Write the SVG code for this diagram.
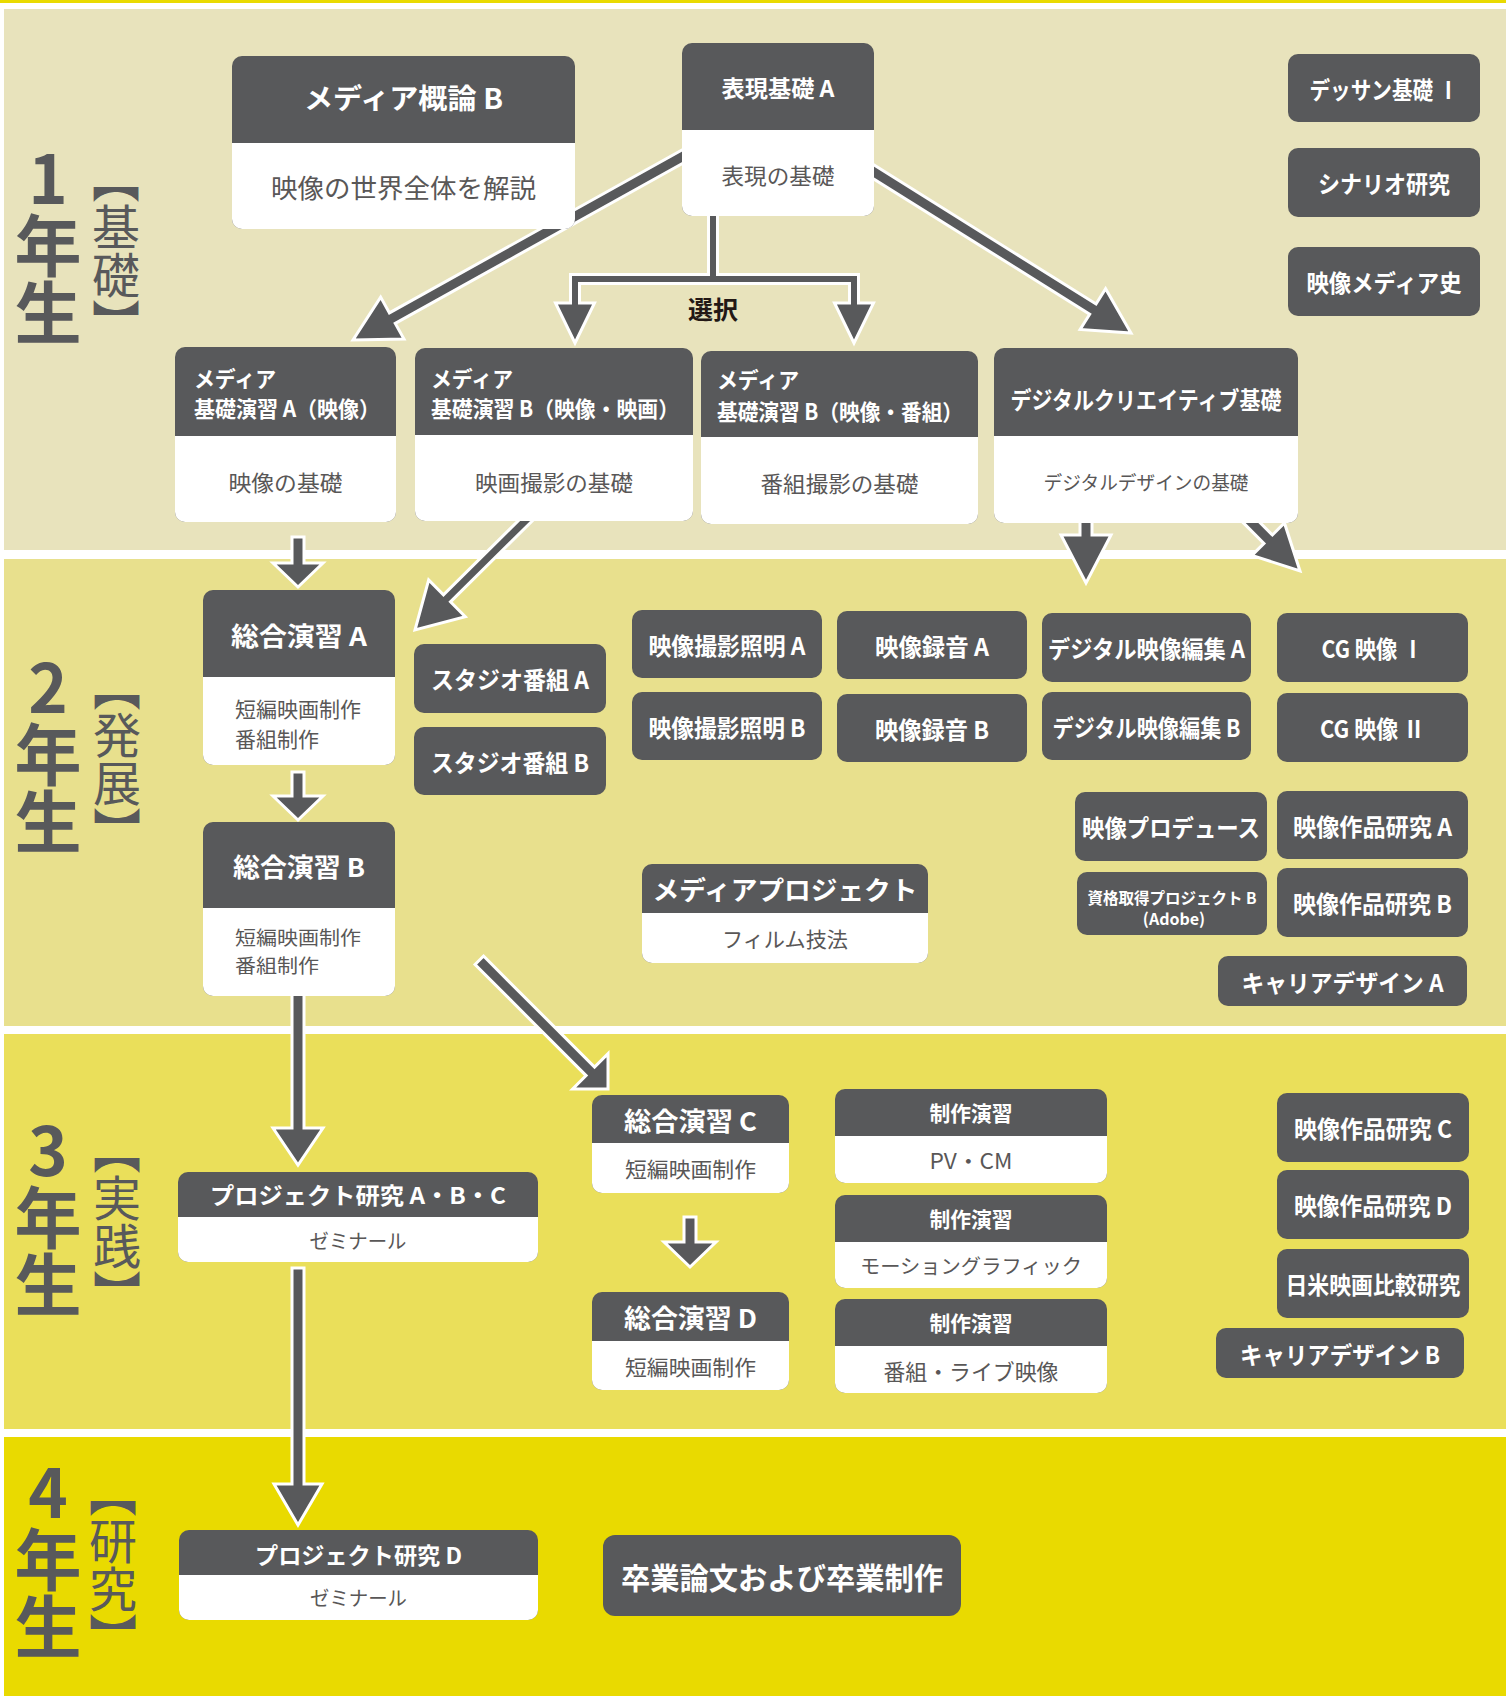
<svg xmlns="http://www.w3.org/2000/svg" width="1506" height="1696" viewBox="0 0 1506 1696">
<style>
.dk{fill:#58595B}
.wh{fill:#FFFFFF}
.ht{fill:#FFFFFF;font-family:"Noto Sans CJK JP","Noto Sans",sans-serif;font-weight:700;text-anchor:middle;dominant-baseline:central}
.hl{fill:#FFFFFF;font-family:"Noto Sans CJK JP","Noto Sans",sans-serif;font-weight:700;dominant-baseline:central}
.st{fill:#595757;font-family:"Noto Sans CJK JP","Noto Sans",sans-serif;font-weight:400;text-anchor:middle;dominant-baseline:central}
.sl{fill:#595757;font-family:"Noto Sans CJK JP","Noto Sans",sans-serif;font-weight:400;dominant-baseline:central}
.ar{fill:#58595B;stroke:#FFFFFF;stroke-width:3;stroke-linejoin:miter}
.yn{fill:#58595B;font-family:"Noto Sans CJK JP","Noto Sans",sans-serif;font-weight:700;font-size:67px;writing-mode:vertical-rl;text-orientation:upright}
.yb{fill:#58595B;font-family:"Noto Sans CJK JP","Noto Sans",sans-serif;font-weight:400;font-size:48px;writing-mode:vertical-rl}
</style>
<rect x="0" y="0" width="1506" height="1696" fill="#FFFFFF"/>
<rect x="0" y="0" width="1506" height="3" fill="#E9DA00"/>
<rect x="4" y="9" width="1502" height="541" fill="#E8E3BC"/>
<rect x="4" y="559" width="1502" height="467" fill="#E8E08D"/>
<rect x="4" y="1034" width="1502" height="395" fill="#EADF5A"/>
<rect x="4" y="1437" width="1502" height="259" fill="#E9DA00"/>

<g id="year-labels">
<text class="yn" x="48" y="145.5">1年生</text>
<text class="yb" x="116" y="155">【基礎】</text>
<text class="yn" x="48" y="654.5">2年生</text>
<text class="yb" x="117" y="663">【発展】</text>
<text class="yn" x="48" y="1117.5">3年生</text>
<text class="yb" x="117" y="1126">【実践】</text>
<text class="yn" x="48" y="1459.5">4年生</text>
<text class="yb" x="113" y="1469">【研究】</text>
</g>

<g id="connectors">
<polygon class="ar" transform="translate(353,340) rotate(150.9)" points="-386,-6 -45,-6 -45,-24 0,0 -45,24 -45,6 -386,6"/>
<polygon class="ar" transform="translate(1131,333) rotate(32.06)" points="-313,-6 -45,-6 -45,-24 0,0 -45,24 -45,6 -313,6"/>
<polygon class="ar" points="708.5,210 717.5,210 717.5,274.5 858.5,274.5 858.5,303 873.5,303 854,343 834.5,303 849.5,303 849.5,283.5 579.5,283.5 579.5,303 594.5,303 575,343 555.5,303 570.5,303 570.5,274.5 708.5,274.5"/>
<text x="713" y="308" font-family="Noto Sans CJK JP, sans-serif" font-weight="700" font-size="25" fill="#231815" text-anchor="middle" dominant-baseline="central">選択</text>
<polygon class="ar" transform="translate(415,630) rotate(135.27)" points="-160,-5 -45,-5 -45,-26 0,0 -45,26 -45,5 -160,5"/>
<polygon class="ar" transform="translate(298,587) rotate(90)" points="-50,-6 -24,-6 -24,-25 0,0 -24,25 -24,6 -50,6"/>
<polygon class="ar" transform="translate(1086,583) rotate(90)" points="-70,-6 -48,-6 -48,-25 0,0 -48,25 -48,6 -70,6"/>
<polygon class="ar" transform="translate(1300,571) rotate(45)" points="-80,-6 -45,-6 -45,-23 0,0 -45,23 -45,6 -80,6"/>
<polygon class="ar" transform="translate(298,820) rotate(90)" points="-48,-6 -24,-6 -24,-25 0,0 -24,25 -24,6 -48,6"/>
<polygon class="ar" transform="translate(298,1165) rotate(90)" points="-175,-6 -37,-6 -37,-25 0,0 -37,25 -37,6 -175,6"/>
<polygon class="ar" transform="translate(608,1089) rotate(45)" points="-182,-6 -25,-6 -25,-25 0,0 -25,25 -25,6 -182,6"/>
<polygon class="ar" transform="translate(298,1525) rotate(90)" points="-257,-6 -41,-6 -41,-24 0,0 -41,24 -41,6 -257,6"/>
<polygon class="ar" transform="translate(690,1267) rotate(90)" points="-50,-6 -25,-6 -25,-26 0,0 -25,26 -25,6 -50,6"/>
</g>

<g id="n-media-gairon-b">
<rect class="dk" x="232" y="56" width="343" height="173" rx="10"/>
<path class="wh" d="M232,143H575V219A10,10 0 0 1 565,229H242A10,10 0 0 1 232,219Z"/>
<text class="ht" x="403.5" y="97" font-size="28" textLength="199" lengthAdjust="spacingAndGlyphs">メディア概論 B</text>
<text class="st" x="403.5" y="186" font-size="26" textLength="265" lengthAdjust="spacingAndGlyphs">映像の世界全体を解説</text>
</g>
<g id="n-hyogen-kiso-a">
<rect class="dk" x="682" y="43" width="192" height="173" rx="10"/>
<path class="wh" d="M682,130H874V206A10,10 0 0 1 864,216H692A10,10 0 0 1 682,206Z"/>
<text class="ht" x="778" y="86.5" font-size="23" textLength="113" lengthAdjust="spacingAndGlyphs">表現基礎 A</text>
<text class="st" x="778" y="174" font-size="22" textLength="113" lengthAdjust="spacingAndGlyphs">表現の基礎</text>
</g>
<g id="n-dessin-1">
<rect class="dk" x="1288" y="54" width="192" height="68" rx="10"/>
<text class="ht" x="1384" y="88" font-size="24" textLength="149" lengthAdjust="spacingAndGlyphs">デッサン基礎 Ⅰ</text>
</g>
<g id="n-scenario">
<rect class="dk" x="1288" y="148" width="192" height="69" rx="10"/>
<text class="ht" x="1384" y="182.5" font-size="24" textLength="132" lengthAdjust="spacingAndGlyphs">シナリオ研究</text>
</g>
<g id="n-eizo-media-shi">
<rect class="dk" x="1288" y="247" width="192" height="69" rx="10"/>
<text class="ht" x="1384" y="281.5" font-size="24" textLength="155" lengthAdjust="spacingAndGlyphs">映像メディア史</text>
</g>
<g id="n-kiso-a">
<rect class="dk" x="175" y="347" width="221" height="175" rx="10"/>
<path class="wh" d="M175,436H396V512A10,10 0 0 1 386,522H185A10,10 0 0 1 175,512Z"/>
<text class="hl" x="194" y="377" font-size="22" textLength="82" lengthAdjust="spacingAndGlyphs">メディア</text>
<text class="hl" x="194" y="407" font-size="22" textLength="186" lengthAdjust="spacingAndGlyphs">基礎演習 A（映像）</text>
<text class="st" x="285.5" y="481" font-size="22" textLength="114" lengthAdjust="spacingAndGlyphs">映像の基礎</text>
</g>
<g id="n-kiso-b-eiga">
<rect class="dk" x="415" y="348" width="278" height="173" rx="10"/>
<path class="wh" d="M415,435H693V511A10,10 0 0 1 683,521H425A10,10 0 0 1 415,511Z"/>
<text class="hl" x="431" y="377" font-size="22" textLength="82" lengthAdjust="spacingAndGlyphs">メディア</text>
<text class="hl" x="431" y="407" font-size="22" textLength="248" lengthAdjust="spacingAndGlyphs">基礎演習 B（映像・映画）</text>
<text class="st" x="554" y="481" font-size="22" textLength="158" lengthAdjust="spacingAndGlyphs">映画撮影の基礎</text>
</g>
<g id="n-kiso-b-bangumi">
<rect class="dk" x="701" y="351" width="277" height="173" rx="10"/>
<path class="wh" d="M701,437H978V514A10,10 0 0 1 968,524H711A10,10 0 0 1 701,514Z"/>
<text class="hl" x="717" y="378" font-size="22" textLength="82" lengthAdjust="spacingAndGlyphs">メディア</text>
<text class="hl" x="717" y="410" font-size="22" textLength="246" lengthAdjust="spacingAndGlyphs">基礎演習 B（映像・番組）</text>
<text class="st" x="839.5" y="482" font-size="22" textLength="158" lengthAdjust="spacingAndGlyphs">番組撮影の基礎</text>
</g>
<g id="n-digital-creative">
<rect class="dk" x="994" y="348" width="304" height="175" rx="10"/>
<path class="wh" d="M994,436H1298V513A10,10 0 0 1 1288,523H1004A10,10 0 0 1 994,513Z"/>
<text class="ht" x="1146" y="398" font-size="24" textLength="271" lengthAdjust="spacingAndGlyphs">デジタルクリエイティブ基礎</text>
<text class="st" x="1146" y="481" font-size="19" textLength="205" lengthAdjust="spacingAndGlyphs">デジタルデザインの基礎</text>
</g>

<g id="n-sogo-a">
<rect class="dk" x="203" y="590" width="192" height="175" rx="10"/>
<path class="wh" d="M203,677H395V755A10,10 0 0 1 385,765H213A10,10 0 0 1 203,755Z"/>
<text class="ht" x="299" y="634" font-size="26" textLength="136" lengthAdjust="spacingAndGlyphs">総合演習 A</text>
<text class="sl" font-size="21"><tspan x="235" y="708">短編映画制作</tspan><tspan x="235" y="738">番組制作</tspan></text>
</g>
<g id="n-sogo-b">
<rect class="dk" x="203" y="822" width="192" height="174" rx="10"/>
<path class="wh" d="M203,908H395V986A10,10 0 0 1 385,996H213A10,10 0 0 1 203,986Z"/>
<text class="ht" x="299" y="865" font-size="26" textLength="132" lengthAdjust="spacingAndGlyphs">総合演習 B</text>
<text class="sl" font-size="19"><tspan x="235" y="935.5" textLength="126" lengthAdjust="spacingAndGlyphs">短編映画制作</tspan><tspan x="235" y="963.5" textLength="84" lengthAdjust="spacingAndGlyphs">番組制作</tspan></text>
</g>
<g id="n-studio-a">
<rect class="dk" x="414" y="644" width="192" height="69" rx="10"/>
<text class="ht" x="510" y="678.5" font-size="24" textLength="158" lengthAdjust="spacingAndGlyphs">スタジオ番組 A</text>
</g>
<g id="n-studio-b">
<rect class="dk" x="414" y="727" width="192" height="68" rx="10"/>
<text class="ht" x="510" y="761" font-size="24" textLength="158" lengthAdjust="spacingAndGlyphs">スタジオ番組 B</text>
</g>
<g id="n-satsuei-a">
<rect class="dk" x="632" y="610" width="190" height="68" rx="10"/>
<text class="ht" x="727" y="644" font-size="24" textLength="157" lengthAdjust="spacingAndGlyphs">映像撮影照明 A</text>
</g>
<g id="n-satsuei-b">
<rect class="dk" x="632" y="692" width="190" height="68" rx="10"/>
<text class="ht" x="727" y="726" font-size="24" textLength="157" lengthAdjust="spacingAndGlyphs">映像撮影照明 B</text>
</g>
<g id="n-rokuon-a">
<rect class="dk" x="837" y="611" width="190" height="68" rx="10"/>
<text class="ht" x="932" y="645" font-size="24" textLength="114" lengthAdjust="spacingAndGlyphs">映像録音 A</text>
</g>
<g id="n-rokuon-b">
<rect class="dk" x="837" y="694" width="190" height="68" rx="10"/>
<text class="ht" x="932" y="728" font-size="24" textLength="114" lengthAdjust="spacingAndGlyphs">映像録音 B</text>
</g>
<g id="n-henshu-a">
<rect class="dk" x="1042" y="613" width="209" height="69" rx="10"/>
<text class="ht" x="1146.5" y="647.5" font-size="24" textLength="197" lengthAdjust="spacingAndGlyphs">デジタル映像編集 A</text>
</g>
<g id="n-henshu-b">
<rect class="dk" x="1042" y="692" width="209" height="68" rx="10"/>
<text class="ht" x="1146.5" y="726" font-size="24" textLength="188" lengthAdjust="spacingAndGlyphs">デジタル映像編集 B</text>
</g>
<g id="n-cg-1">
<rect class="dk" x="1277" y="613" width="191" height="69" rx="10"/>
<text class="ht" x="1372.5" y="647.5" font-size="24" textLength="102" lengthAdjust="spacingAndGlyphs">CG 映像 Ⅰ</text>
</g>
<g id="n-cg-2">
<rect class="dk" x="1277" y="693" width="191" height="69" rx="10"/>
<text class="ht" x="1372.5" y="727.5" font-size="24" textLength="105" lengthAdjust="spacingAndGlyphs">CG 映像 Ⅱ</text>
</g>
<g id="n-produce">
<rect class="dk" x="1075" y="792" width="192" height="69" rx="10"/>
<text class="ht" x="1171" y="826.5" font-size="24" textLength="178" lengthAdjust="spacingAndGlyphs">映像プロデュース</text>
</g>
<g id="n-sakuhin-a">
<rect class="dk" x="1277" y="791" width="191" height="68" rx="10"/>
<text class="ht" x="1372.5" y="825" font-size="24" textLength="159" lengthAdjust="spacingAndGlyphs">映像作品研究 A</text>
</g>
<g id="n-shikaku-b">
<rect class="dk" x="1077" y="872" width="190" height="63" rx="10"/>
<text class="ht" font-size="16"><tspan x="1172" y="897" textLength="169" lengthAdjust="spacingAndGlyphs">資格取得プロジェクト B</tspan><tspan x="1174" y="918">(Adobe)</tspan></text>
</g>
<g id="n-sakuhin-b">
<rect class="dk" x="1277" y="868" width="191" height="69" rx="10"/>
<text class="ht" x="1372.5" y="902.5" font-size="24" textLength="159" lengthAdjust="spacingAndGlyphs">映像作品研究 B</text>
</g>
<g id="n-career-a">
<rect class="dk" x="1218" y="956" width="249" height="50" rx="10"/>
<text class="ht" x="1342.5" y="981" font-size="24" textLength="202" lengthAdjust="spacingAndGlyphs">キャリアデザイン A</text>
</g>
<g id="n-media-project">
<rect class="dk" x="642" y="864" width="286" height="99" rx="10"/>
<path class="wh" d="M642,913H928V953A10,10 0 0 1 918,963H652A10,10 0 0 1 642,953Z"/>
<text class="ht" x="785" y="888.5" font-size="26" textLength="265" lengthAdjust="spacingAndGlyphs">メディアプロジェクト</text>
<text class="st" x="785" y="938" font-size="21" textLength="126" lengthAdjust="spacingAndGlyphs">フィルム技法</text>
</g>

<g id="n-project-abc">
<rect class="dk" x="178" y="1172" width="360" height="90" rx="10"/>
<path class="wh" d="M178,1217H538V1252A10,10 0 0 1 528,1262H188A10,10 0 0 1 178,1252Z"/>
<text class="ht" x="358" y="1194" font-size="23" textLength="296" lengthAdjust="spacingAndGlyphs">プロジェクト研究 A・B・C</text>
<text class="st" x="358" y="1240" font-size="20" textLength="97" lengthAdjust="spacingAndGlyphs">ゼミナール</text>
</g>
<g id="n-sogo-c">
<rect class="dk" x="592" y="1095" width="197" height="98" rx="10"/>
<path class="wh" d="M592,1143H789V1183A10,10 0 0 1 779,1193H602A10,10 0 0 1 592,1183Z"/>
<text class="ht" x="690.5" y="1119" font-size="26" textLength="133" lengthAdjust="spacingAndGlyphs">総合演習 C</text>
<text class="st" x="690.5" y="1168" font-size="21" textLength="131" lengthAdjust="spacingAndGlyphs">短編映画制作</text>
</g>
<g id="n-sogo-d">
<rect class="dk" x="592" y="1292" width="197" height="98" rx="10"/>
<path class="wh" d="M592,1341H789V1380A10,10 0 0 1 779,1390H602A10,10 0 0 1 592,1380Z"/>
<text class="ht" x="690.5" y="1316.5" font-size="26" textLength="133" lengthAdjust="spacingAndGlyphs">総合演習 D</text>
<text class="st" x="690.5" y="1366" font-size="21" textLength="131" lengthAdjust="spacingAndGlyphs">短編映画制作</text>
</g>
<g id="n-seisaku-pvcm">
<rect class="dk" x="835" y="1089" width="272" height="94" rx="10"/>
<path class="wh" d="M835,1136H1107V1173A10,10 0 0 1 1097,1183H845A10,10 0 0 1 835,1173Z"/>
<text class="ht" x="971" y="1112" font-size="21" textLength="83" lengthAdjust="spacingAndGlyphs">制作演習</text>
<text class="st" x="971" y="1159" font-size="22" textLength="83" lengthAdjust="spacingAndGlyphs">PV・CM</text>
</g>
<g id="n-seisaku-motion">
<rect class="dk" x="835" y="1195" width="272" height="93" rx="10"/>
<path class="wh" d="M835,1242H1107V1278A10,10 0 0 1 1097,1288H845A10,10 0 0 1 835,1278Z"/>
<text class="ht" x="971" y="1218" font-size="21" textLength="83" lengthAdjust="spacingAndGlyphs">制作演習</text>
<text class="st" x="971" y="1265" font-size="20" textLength="222" lengthAdjust="spacingAndGlyphs">モーショングラフィック</text>
</g>
<g id="n-seisaku-live">
<rect class="dk" x="835" y="1299" width="272" height="94" rx="10"/>
<path class="wh" d="M835,1346H1107V1383A10,10 0 0 1 1097,1393H845A10,10 0 0 1 835,1383Z"/>
<text class="ht" x="971" y="1322" font-size="21" textLength="83" lengthAdjust="spacingAndGlyphs">制作演習</text>
<text class="st" x="971" y="1370" font-size="22" textLength="175" lengthAdjust="spacingAndGlyphs">番組・ライブ映像</text>
</g>
<g id="n-sakuhin-c">
<rect class="dk" x="1277" y="1093" width="192" height="69" rx="10"/>
<text class="ht" x="1373" y="1127.5" font-size="24" textLength="158" lengthAdjust="spacingAndGlyphs">映像作品研究 C</text>
</g>
<g id="n-sakuhin-d">
<rect class="dk" x="1277" y="1170" width="192" height="69" rx="10"/>
<text class="ht" x="1373" y="1204.5" font-size="24" textLength="158" lengthAdjust="spacingAndGlyphs">映像作品研究 D</text>
</g>
<g id="n-nichibei">
<rect class="dk" x="1277" y="1249" width="192" height="69" rx="10"/>
<text class="ht" x="1373" y="1283.5" font-size="24" textLength="175" lengthAdjust="spacingAndGlyphs">日米映画比較研究</text>
</g>
<g id="n-career-b">
<rect class="dk" x="1216" y="1328" width="248" height="50" rx="10"/>
<text class="ht" x="1340" y="1353" font-size="24" textLength="200" lengthAdjust="spacingAndGlyphs">キャリアデザイン B</text>
</g>

<g id="n-project-d">
<rect class="dk" x="179" y="1530" width="359" height="90" rx="10"/>
<path class="wh" d="M179,1575H538V1610A10,10 0 0 1 528,1620H189A10,10 0 0 1 179,1610Z"/>
<text class="ht" x="358.5" y="1554" font-size="23" textLength="207" lengthAdjust="spacingAndGlyphs">プロジェクト研究 D</text>
<text class="st" x="358.5" y="1597" font-size="20" textLength="97" lengthAdjust="spacingAndGlyphs">ゼミナール</text>
</g>
<g id="n-sotsugyo">
<rect class="dk" x="603" y="1535" width="358" height="81" rx="12"/>
<text class="ht" x="782" y="1575.5" font-size="30" textLength="322" lengthAdjust="spacingAndGlyphs">卒業論文および卒業制作</text>
</g>
</svg>
